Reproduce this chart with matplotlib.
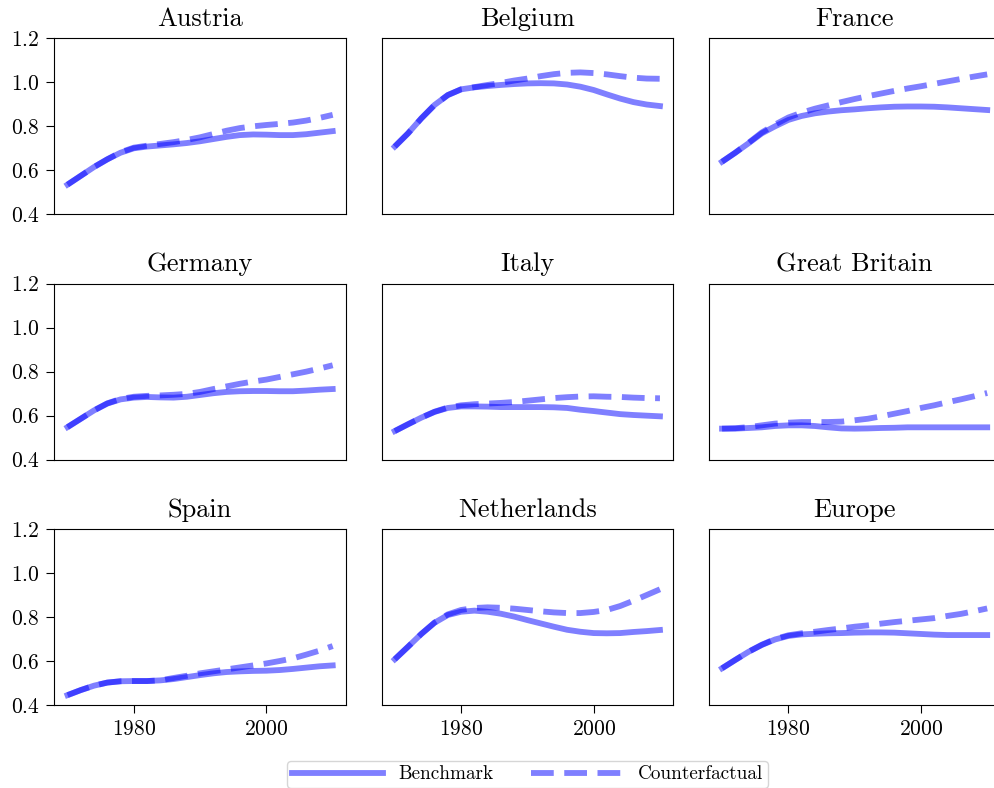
import matplotlib
matplotlib.use("Agg")
import matplotlib.pyplot as plt
import numpy as np

plt.rcParams['font.family'] = ['cmr10', 'DejaVu Serif']
plt.rcParams['mathtext.fontset'] = 'cm'
plt.rcParams['axes.formatter.use_mathtext'] = True
plt.rcParams['font.size'] = 14

years = np.arange(1970, 2011, 2)

countries = ["Austria", "Belgium", "France",
             "Germany", "Italy", "Great Britain",
             "Spain", "Netherlands", "Europe"]

# benchmark path, one value every two years 1970-2010
bench_austria = [0.535, 0.575, 0.615, 0.650, 0.680, 0.700, 0.708, 0.713, 0.718, 0.724, 0.732,
                 0.742, 0.752, 0.760, 0.763, 0.762, 0.760, 0.760, 0.764, 0.771, 0.778]
bench_belgium = [0.708, 0.768, 0.836, 0.897, 0.942, 0.968, 0.977, 0.983, 0.988, 0.992, 0.995,
                 0.996, 0.995, 0.990, 0.980, 0.965, 0.945, 0.926, 0.910, 0.899, 0.892]
bench_france = [0.639, 0.680, 0.723, 0.768, 0.800, 0.829, 0.847, 0.859, 0.867, 0.873, 0.877,
                0.882, 0.886, 0.889, 0.890, 0.890, 0.889, 0.886, 0.882, 0.878, 0.874]
bench_germany = [0.548, 0.586, 0.624, 0.655, 0.674, 0.682, 0.685, 0.683, 0.682, 0.686, 0.694,
                 0.702, 0.708, 0.711, 0.712, 0.712, 0.711, 0.711, 0.714, 0.718, 0.721]
bench_italy = [0.530, 0.561, 0.591, 0.617, 0.635, 0.642, 0.642, 0.641, 0.639, 0.639, 0.639,
               0.639, 0.638, 0.635, 0.627, 0.621, 0.614, 0.607, 0.603, 0.600, 0.597]
bench_britain = [0.541, 0.541, 0.544, 0.547, 0.553, 0.556, 0.556, 0.553, 0.547, 0.542, 0.541,
                 0.542, 0.544, 0.545, 0.547, 0.547, 0.547, 0.547, 0.547, 0.547, 0.547]
bench_spain = [0.445, 0.468, 0.488, 0.502, 0.508, 0.509, 0.509, 0.512, 0.518, 0.527, 0.536,
               0.544, 0.550, 0.553, 0.555, 0.556, 0.559, 0.564, 0.570, 0.576, 0.580]
bench_netherlands = [0.608, 0.665, 0.723, 0.774, 0.809, 0.824, 0.829, 0.824, 0.815, 0.802, 0.786,
                     0.771, 0.756, 0.742, 0.733, 0.727, 0.726, 0.727, 0.732, 0.736, 0.741]
bench_europe = [0.567, 0.605, 0.642, 0.673, 0.698, 0.714, 0.721, 0.724, 0.726, 0.727, 0.729,
                0.730, 0.730, 0.729, 0.726, 0.723, 0.720, 0.718, 0.718, 0.718, 0.718]

# counterfactual path
cf_austria = [0.535, 0.575, 0.615, 0.650, 0.682, 0.703, 0.712, 0.720, 0.728, 0.738, 0.750,
              0.765, 0.780, 0.792, 0.800, 0.806, 0.811, 0.817, 0.826, 0.838, 0.852]
cf_belgium = [0.708, 0.768, 0.836, 0.897, 0.942, 0.968, 0.978, 0.988, 0.997, 1.008, 1.017,
              1.028, 1.037, 1.043, 1.045, 1.042, 1.036, 1.028, 1.021, 1.017, 1.016]
cf_france = [0.639, 0.680, 0.725, 0.772, 0.808, 0.840, 0.862, 0.880, 0.895, 0.910, 0.924,
             0.937, 0.949, 0.961, 0.972, 0.982, 0.993, 1.004, 1.015, 1.026, 1.036]
cf_germany = [0.548, 0.586, 0.624, 0.656, 0.676, 0.686, 0.690, 0.692, 0.695, 0.699, 0.708,
              0.721, 0.733, 0.745, 0.755, 0.764, 0.776, 0.788, 0.800, 0.814, 0.829]
cf_italy = [0.530, 0.561, 0.591, 0.618, 0.637, 0.647, 0.652, 0.655, 0.658, 0.662, 0.668,
            0.674, 0.680, 0.684, 0.687, 0.688, 0.686, 0.685, 0.682, 0.680, 0.679]
cf_britain = [0.541, 0.543, 0.548, 0.556, 0.564, 0.568, 0.571, 0.571, 0.571, 0.573, 0.579,
              0.586, 0.597, 0.609, 0.621, 0.635, 0.647, 0.661, 0.674, 0.688, 0.703]
cf_spain = [0.445, 0.468, 0.488, 0.502, 0.508, 0.509, 0.509, 0.512, 0.523, 0.533, 0.544,
            0.553, 0.562, 0.571, 0.580, 0.589, 0.600, 0.612, 0.629, 0.647, 0.668]
cf_netherlands = [0.608, 0.665, 0.723, 0.775, 0.812, 0.832, 0.841, 0.844, 0.842, 0.838, 0.832,
                  0.826, 0.821, 0.818, 0.818, 0.823, 0.832, 0.850, 0.874, 0.900, 0.926]
cf_europe = [0.567, 0.605, 0.642, 0.674, 0.700, 0.717, 0.726, 0.733, 0.741, 0.748, 0.756,
             0.762, 0.770, 0.777, 0.783, 0.789, 0.795, 0.805, 0.814, 0.826, 0.839]

benchmark = [bench_austria, bench_belgium, bench_france,
             bench_germany, bench_italy, bench_britain,
             bench_spain, bench_netherlands, bench_europe]
counterfactual = [cf_austria, cf_belgium, cf_france,
                  cf_germany, cf_italy, cf_britain,
                  cf_spain, cf_netherlands, cf_europe]

fig, axes = plt.subplots(3, 3, figsize=(9.94, 7.88), dpi=100, sharex=True, sharey=True)
fig.subplots_adjust(left=0.0546, right=1.0065, top=0.9514, bottom=0.1053,
                    wspace=0.122, hspace=0.394)

for i, ax in enumerate(axes.flat):
    ax.plot(years, benchmark[i], color='blue', alpha=0.5, lw=4.2, label='Benchmark')
    ax.plot(years, counterfactual[i], color='blue', alpha=0.5, lw=4.2, ls='--',
            dashes=(3.9, 1.8), label='Counterfactual')
    ax.set_title(countries[i], fontsize=19, pad=9)
    ax.set_ylim(0.4, 1.2)
    ax.set_yticks([0.4, 0.6, 0.8, 1.0, 1.2])
    ax.set_xticks([1980, 2000])
    ax.tick_params(labelsize=15.5, length=6, pad=4.5)
    row, col = divmod(i, 3)
    if col > 0:
        ax.tick_params(left=False, labelleft=False)
    if row < 2:
        ax.tick_params(bottom=False, labelbottom=False)

handles, labels = axes[0, 0].get_legend_handles_labels()
fig.legend(handles, labels, loc='lower center', bbox_to_anchor=(0.5307, -0.0125),
           ncol=2, fontsize=13.8, handlelength=4.75, columnspacing=1.95, borderpad=0.25)

fig.savefig('out.png', dpi=100)
